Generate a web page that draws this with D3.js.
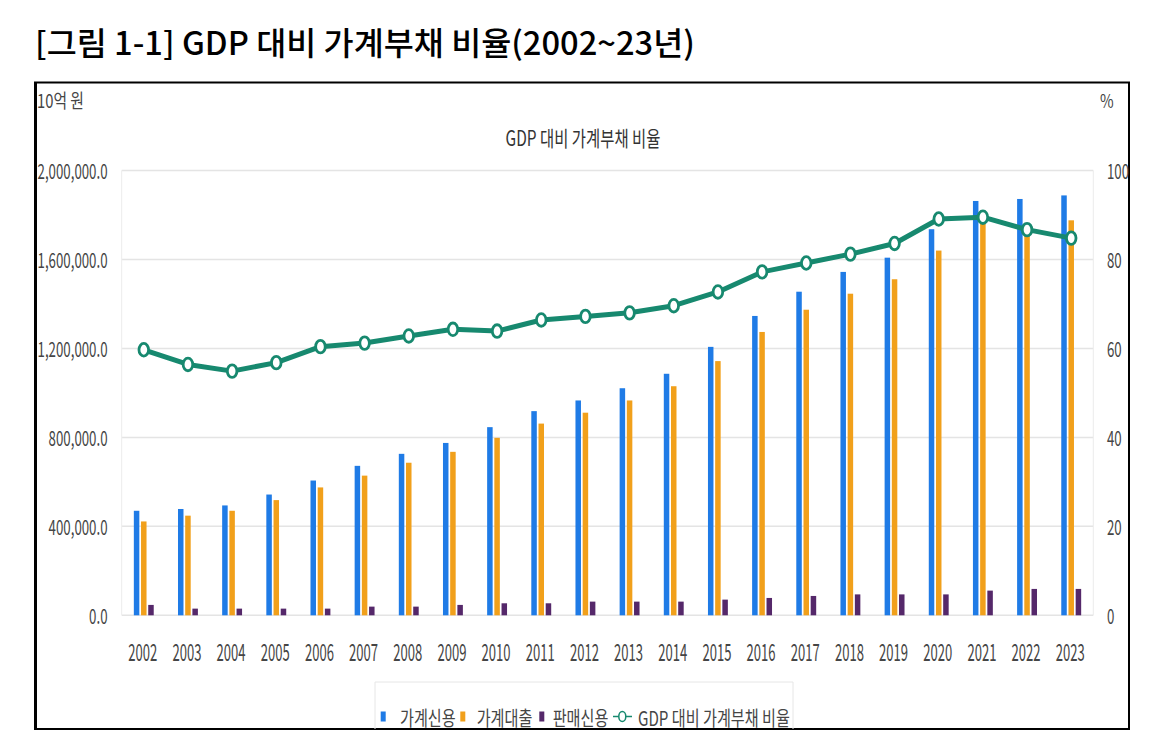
<!DOCTYPE html>
<html>
<head>
<meta charset="utf-8">
<script src="https://cdn.jsdelivr.net/npm/d3@7"></script>
<style>
  html, body { margin: 0; padding: 0; background: #fff; }
  svg { display: block; }
  text { font-family: "Noto Sans CJK KR", "Noto Sans", sans-serif; }
</style>
</head>
<body>
<svg id="chart" width="1154" height="747"></svg>
<script>
// ---------------- data ----------------
const years = ["2002","2003","2004","2005","2006","2007","2008","2009","2010","2011","2012",
               "2013","2014","2015","2016","2017","2018","2019","2020","2021","2022","2023"];
// 가계신용 (10억 원)
const householdCredit = [470000, 478000, 494000, 543000, 606000, 672000, 726000, 775000, 846000, 918000, 966000,
                         1021000, 1086000, 1207000, 1346000, 1455000, 1544000, 1608000, 1736000, 1863000, 1872000, 1888000];
// 가계대출 (10억 원)
const householdLoans = [422000, 448000, 470000, 518000, 575000, 628000, 686000, 735000, 798000, 862000, 911000,
                        966000, 1030000, 1143000, 1274000, 1374000, 1446000, 1511000, 1640000, 1760000, 1749000, 1776000];
// 판매신용 (10억 원)
const salesCredit = [46700, 30000, 30000, 30000, 30000, 39000, 39000, 46700, 54000, 54000, 61500,
                     61500, 61500, 70500, 78000, 87000, 94000, 94000, 94000, 111000, 118600, 118600];
// GDP 대비 가계부채 비율 (%)
const debtRatio = [59.7, 56.4, 54.9, 56.8, 60.4, 61.2, 62.8, 64.3, 63.9, 66.4, 67.2,
                   68.0, 69.6, 72.7, 77.2, 79.2, 81.2, 83.6, 89.1, 89.5, 86.7, 84.8];
const leftTicks = [0, 400000, 800000, 1200000, 1600000, 2000000];
const rightTicks = [0, 20, 40, 60, 80, 100];
const seriesNames = ["가계신용", "가계대출", "판매신용", "GDP 대비 가계부채 비율"];
const figureTitle = "[그림 1-1] GDP 대비 가계부채 비율(2002~23년)";
const chartTitle = "GDP 대비 가계부채 비율";
const leftUnit = "10억 원";
const rightUnit = "%";

// ---------------- styles ----------------
const colors = { credit: "#1f7be6", loans: "#f1a01b", sales: "#55286a", line: "#17896f" };
const tickColor = "#454545";

const svg = d3.select("#chart");

// helpers
function measure(str, size, weight) {
  const t = svg.append("text").attr("font-size", size).attr("font-weight", weight || 400).text(str);
  const w = t.node().getComputedTextLength();
  t.remove();
  return w;
}
function label(g, str, x, y, o) {
  return g.append("text")
    .attr("transform", `translate(${x},${y}) scale(${o.sx},1)`)
    .attr("text-anchor", o.anchor || "start")
    .attr("dominant-baseline", "central")
    .attr("font-size", o.size)
    .attr("font-weight", o.weight || 400)
    .attr("fill", o.fill || "#000")
    .text(str);
}

// ---------------- layout / scales ----------------
const plot = { left: 121.7, right: 1093.3, top: 170.5, bottom: 615.3 };
const x = d3.scaleBand().domain(years).range([plot.left, plot.right]).padding(0);
const yL = d3.scaleLinear().domain([0, 2000000]).range([plot.bottom, plot.top]);
const yR = d3.scaleLinear().domain([0, 100]).range([plot.bottom, plot.top]);
const cx = d => x(d) + x.bandwidth() / 2;

// figure title
const titleSize = 32;
const titleSx = 660 / measure(figureTitle, titleSize, 500);
label(svg, figureTitle, 35, 41, { size: titleSize, weight: 500, sx: titleSx, fill: "#000" });

// frame
svg.append("rect").attr("x", 35).attr("y", 82.5).attr("width", 1094).attr("height", 646.5)
  .attr("fill", "none").attr("stroke", "#000").attr("stroke-width", 2);
svg.append("line").attr("x1", 35.5).attr("x2", 35.5).attr("y1", 82).attr("y2", 730)
  .attr("stroke", "#000").attr("stroke-width", 3);

// gridlines
const grid = svg.append("g");
grid.selectAll("line").data(leftTicks).join("line")
  .attr("x1", plot.left).attr("x2", plot.right)
  .attr("y1", d => yL(d)).attr("y2", d => yL(d))
  .attr("stroke", "#e4e4e4").attr("stroke-width", 1.5);
grid.append("line").attr("x1", plot.left).attr("x2", plot.left).attr("y1", plot.top).attr("y2", plot.bottom)
  .attr("stroke", "#ececec").attr("stroke-width", 1);
grid.append("line").attr("x1", plot.right).attr("x2", plot.right).attr("y1", plot.top).attr("y2", plot.bottom)
  .attr("stroke", "#ececec").attr("stroke-width", 1);

// axis labels
const tickSize = 21;
const tickSx = 70 / measure("2,000,000.0", tickSize);
const fmt = d3.format(",.1f");
const leftAxis = svg.append("g");
leftTicks.forEach(v => label(leftAxis, fmt(v), 107.5, yL(v), { size: tickSize, sx: tickSx, anchor: "end", fill: tickColor }));
const rightAxis = svg.append("g");
rightTicks.forEach(v => label(rightAxis, String(v), 1107, yR(v), { size: tickSize, sx: tickSx, anchor: "start", fill: tickColor }));

const xSize = 24;
const xSx = 29 / measure("2002", xSize);
const xAxis = svg.append("g");
years.forEach(yr => label(xAxis, yr, cx(yr) - 1, 651, { size: xSize, sx: xSx, anchor: "middle", fill: tickColor }));

// units and chart title
const unitSize = 19;
const unitSx = 47 / measure(leftUnit, unitSize);
label(svg, leftUnit, 37, 100, { size: unitSize, sx: unitSx, fill: tickColor });
label(svg, rightUnit, 1100, 100, { size: unitSize, sx: unitSx, fill: tickColor });
const ctSize = 21;
const ctSx = 155 / measure(chartTitle, ctSize);
label(svg, chartTitle, 583, 137, { size: ctSize, sx: ctSx, anchor: "middle", fill: "#333" });

// bars
const barW = 5.5, step = 7.2;
const bars = svg.append("g");
const barSeries = [
  { vals: householdCredit, color: colors.credit, off: -step },
  { vals: householdLoans, color: colors.loans, off: 0 },
  { vals: salesCredit, color: colors.sales, off: step }
];
barSeries.forEach(s => {
  bars.append("g").selectAll("rect").data(years).join("rect")
    .attr("x", (d, i) => cx(d) + s.off - barW / 2)
    .attr("y", (d, i) => yL(s.vals[i]))
    .attr("width", barW)
    .attr("height", (d, i) => yL(0) - yL(s.vals[i]))
    .attr("fill", s.color);
});

// line
const lineGen = d3.line().x((d, i) => cx(years[i])).y(d => yR(d));
svg.append("path").datum(debtRatio).attr("d", lineGen)
  .attr("fill", "none").attr("stroke", colors.line).attr("stroke-width", 5).attr("stroke-linejoin", "round");
svg.append("g").selectAll("ellipse").data(debtRatio).join("ellipse")
  .attr("cx", (d, i) => cx(years[i])).attr("cy", d => yR(d))
  .attr("rx", 4.8).attr("ry", 6.3)
  .attr("fill", "#fff").attr("stroke", colors.line).attr("stroke-width", 2.8);

// legend
const lg = svg.append("g");
lg.append("path").attr("d", "M375,729 V682 H793 V729").attr("fill", "none").attr("stroke", "#e6e6e6").attr("stroke-width", 1);
const legSize = 20;
const legSx = 152 / measure(seriesNames[3], legSize);
const ly = 716.5;
lg.append("rect").attr("x", 380.7).attr("y", ly - 5).attr("width", 5).attr("height", 10).attr("fill", colors.credit);
label(lg, seriesNames[0], 400, ly, { size: legSize, sx: legSx, fill: tickColor });
lg.append("rect").attr("x", 460.3).attr("y", ly - 5).attr("width", 5).attr("height", 10).attr("fill", colors.loans);
label(lg, seriesNames[1], 476.7, ly, { size: legSize, sx: legSx, fill: tickColor });
lg.append("rect").attr("x", 539.3).attr("y", ly - 5).attr("width", 5).attr("height", 10).attr("fill", colors.sales);
label(lg, seriesNames[2], 552.7, ly, { size: legSize, sx: legSx, fill: tickColor });
lg.append("line").attr("x1", 613).attr("x2", 632).attr("y1", ly).attr("y2", ly).attr("stroke", colors.line).attr("stroke-width", 1.5);
lg.append("ellipse").attr("cx", 622.3).attr("cy", ly).attr("rx", 3.5).attr("ry", 5)
  .attr("fill", "#fff").attr("stroke", colors.line).attr("stroke-width", 1.5);
label(lg, seriesNames[3], 638, ly, { size: legSize, sx: legSx, fill: tickColor });
</script>
</body>
</html>
